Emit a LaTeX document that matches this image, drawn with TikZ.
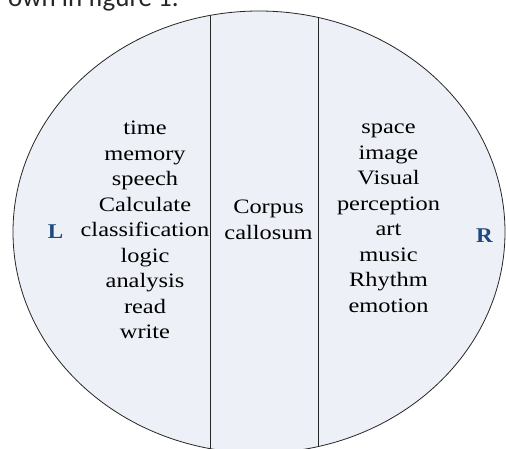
\documentclass[tikz,border=0pt]{standalone}
\usepackage{fontspec}
\setmainfont{Liberation Serif}
\newfontfamily\captionfont{Carlito}
\definecolor{lobefill}{HTML}{EDF0F6}
\definecolor{sidemark}{HTML}{1F4A80}
\tikzset{
  hemisphere/.style={fill=lobefill, draw=black!85, line width=0.8pt},
  divider/.style={draw=black!85, line width=0.8pt},
  wordlist/.style={align=center, text=black, inner sep=0pt, xscale=1.19,
    font=\fontsize{20.5}{25.5}\selectfont},
  sidelabel/.style={text=sidemark, inner sep=0pt, xscale=1.1,
    font=\fontsize{21}{24}\selectfont\bfseries},
  runningtext/.style={text=black!85, inner sep=0pt,
    font=\captionfont\fontsize{27}{32}\selectfont}
}
\begin{document}
\begin{tikzpicture}[x=1pt,y=-1pt]
\useasboundingbox (0,0) rectangle (506,448);
\clip (0,0) rectangle (506,448);
\fill[white] (0,0) rectangle (506,448);

% tail of the preceding sentence, cut by the frame
\node[runningtext, anchor=base west] (caption) at (8,6.7) {own in figure 1.};

% the brain outline
\coordinate (centre) at (259,232);
\path[hemisphere] (centre) ellipse [x radius=246, y radius=221];

% the two boundaries of the corpus callosum band
\coordinate (leftTop) at (210,0);
\coordinate (leftBot) at (210,460);
\coordinate (rightTop) at (318,0);
\coordinate (rightBot) at (318,460);
\begin{scope}
  \clip (centre) ellipse [x radius=246, y radius=221];
  \draw[divider] (leftTop) -- (leftBot);
  \draw[divider] (rightTop) -- (rightBot);
\end{scope}

% left hemisphere functions
\node[wordlist] (leftlist) at (145,230)
  {time\\memory\\speech\\Calculate\\classification\\logic\\analysis\\read\\write};

% corpus callosum
\node[wordlist] (bridge) at (268.5,220) {Corpus\\callosum};

% right hemisphere functions
\node[wordlist] (rightlist) at (388.5,218.5)
  {space\\image\\Visual\\perception\\art\\music\\Rhythm\\emotion};

% side markers
\node[sidelabel] (Lmark) at (55.5,231.5) {L};
\node[sidelabel] (Rmark) at (484.5,235.5) {R};
\end{tikzpicture}
\end{document}
